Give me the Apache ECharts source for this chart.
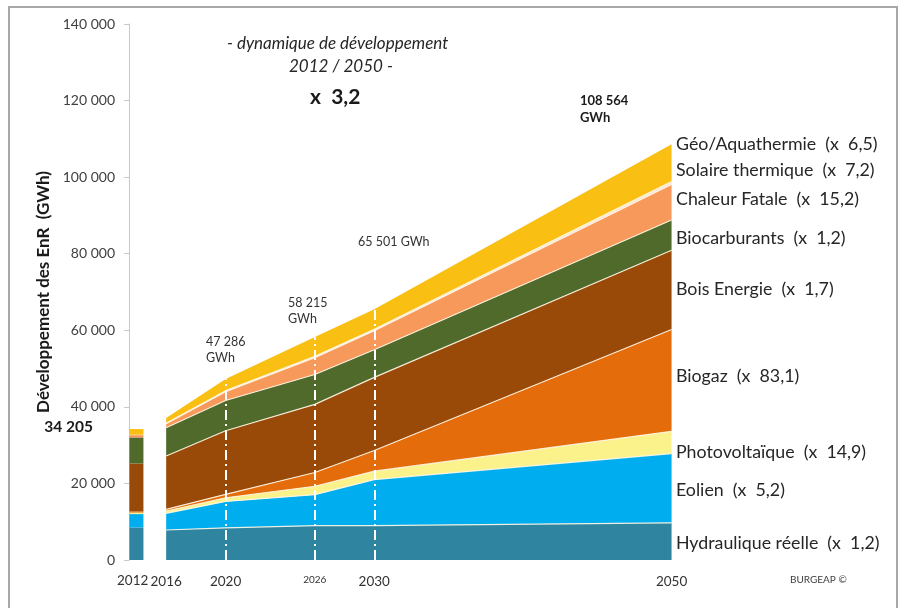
<!DOCTYPE html>
<html>
<head>
<meta charset="utf-8">
<script src="https://cdn.jsdelivr.net/npm/echarts@6/dist/echarts.min.js"></script>
<style>
  html, body { margin: 0; padding: 0; background: #ffffff; }
  #chart { width: 908px; height: 608px; }
</style>
</head>
<body>
<div id="chart"></div>
<script>
// Renewable energy development (GWh), stacked by source, 2012 then 2016 -> 2050
const years = [2016, 2020, 2026, 2030, 2050];

// layer values, bottom to top
const hydraulique      = [7840, 8400, 8960, 9000, 9700];
const eolien           = [4360, 6900, 8100, 12000, 18100];
const photovoltaique   = [600, 950, 2200, 2200, 5800];
const biogaz           = [440, 900, 3600, 5400, 26600];
const boisEnergie      = [13930, 16600, 17800, 19100, 20700];
const biocarburants    = [7390, 7900, 7800, 7200, 7900];
const chaleurFatale    = [1040, 2300, 4400, 5000, 9300];
const solaireThermique = [100, 280, 320, 340, 720];
const geoAquathermie   = [1370, 3056, 5035, 5261, 9744];

// 2012 reference year, same layer order
const values2012 = [8500, 3500, 390, 320, 12500, 6800, 610, 100, 1485];

const layerNames = ['Hydraulique réelle', 'Eolien', 'Photovoltaïque', 'Biogaz', 'Bois Energie',
  'Biocarburants', 'Chaleur Fatale', 'Solaire thermique', 'Géo/Aquathermie'];
const layerFactors = ['1,2', '5,2', '14,9', '83,1', '1,7', '1,2', '15,2', '7,2', '6,5'];
const layerColors = ['#2f85a0', '#00aeef', '#fbf28c', '#e46c0a', '#9a4a08',
  '#4f6a2a', '#f7995a', '#fbe3cf', '#f9bf12'];
const layerValues = [hydraulique, eolien, photovoltaique, biogaz, boisEnergie,
  biocarburants, chaleurFatale, solaireThermique, geoAquathermie];

// x-axis: 2012 column, an empty slot, then one slot per year to 2050
const categories = ['2012', ''];
for (let y = 2016; y <= 2050; y++) categories.push(String(y));
const shownYears = ['2016', '2020', '2026', '2030', '2050'];
const markedYears = [2020, 2026, 2030];

const yTicks = { min: 0, max: 140000, interval: 20000 };

function fmt(v) {
  return String(v).replace(/\B(?=(\d{3})+(?!\d))/g, ' ');
}
function totalAt(year) {
  const i = years.indexOf(year);
  return layerValues.reduce((s, arr) => s + arr[i], 0);
}
const total2012 = values2012.reduce((a, b) => a + b, 0);
const total2050 = totalAt(2050);

const FONT = 'Lato';

const series = [];
layerValues.forEach((arr, k) => {
  const s = {
    name: layerNames[k],
    type: 'line',
    stack: 'enr',
    symbol: 'none',
    smooth: false,
    data: years.map((y, i) => [String(y), arr[i]]),
    lineStyle: { color: 'rgba(255,246,228,0.9)', width: k === layerValues.length - 1 ? 0 : 1.2 },
    areaStyle: { color: layerColors[k], opacity: 1 },
    silent: true,
    z: 2
  };
  if (k === layerValues.length - 1) {
    s.markLine = {
      silent: true,
      symbol: 'none',
      label: { show: false },
      lineStyle: { color: '#ffffff', width: 2, type: [10, 4, 2, 4] },
      data: markedYears.map(y => [
        { coord: [String(y), 0] },
        { coord: [String(y), totalAt(y)] }
      ])
    };
  }
  series.push(s);
});
values2012.forEach((v, k) => {
  series.push({
    name: layerNames[k] + ' 2012',
    type: 'bar',
    stack: 'y2012',
    barWidth: 14,
    data: [['2012', v]],
    itemStyle: { color: layerColors[k] },
    silent: true
  });
});

// series labels on the right, with growth factors
const labelY = [545, 492, 454, 378, 291, 240, 201, 172, 146];
const graphics = layerNames.map((n, k) => ({
  type: 'text',
  left: 676,
  top: labelY[k] - 11,
  style: {
    text: n + '  (x  ' + layerFactors[k] + ')',
    font: '17.8px ' + FONT,
    fill: '#262626'
  }
}));

graphics.push(
  { type: 'rect', shape: { x: 9, y: 7, width: 888, height: 640 },
    style: { fill: 'none', stroke: '#a8a8a8', lineWidth: 2 }, silent: true },
  { type: 'text', left: 227, top: 35,
    style: { text: '- dynamique de développement', font: 'italic 17px ' + FONT, fill: '#262626' } },
  { type: 'text', left: 289, top: 58,
    style: { text: '2012 / 2050 -', font: 'italic 17px ' + FONT, fill: '#262626' } },
  { type: 'text', left: 310, top: 87,
    style: { text: 'x  3,2', font: 'bold 21px ' + FONT, fill: '#1a1a1a' } },
  { type: 'text', left: 580, top: 92,
    style: { text: fmt(total2050) + '\nGWh', font: 'bold 13px ' + FONT, fill: '#1a1a1a', lineHeight: 17 } },
  { type: 'text', left: 358, top: 235,
    style: { text: fmt(totalAt(2030)) + ' GWh', font: '12.5px ' + FONT, fill: '#333' } },
  { type: 'text', left: 288, top: 295,
    style: { text: fmt(totalAt(2026)) + '\nGWh', font: '12.5px ' + FONT, fill: '#333', lineHeight: 16 } },
  { type: 'text', left: 206, top: 334,
    style: { text: fmt(totalAt(2020)) + '\nGWh', font: '12.5px ' + FONT, fill: '#333', lineHeight: 16 } },
  { type: 'text', right: 815, top: 419,
    style: { text: fmt(total2012), font: 'bold 15.5px ' + FONT, fill: '#1a1a1a', align: 'right' } },
  // year label of the separate 2012 column
  { type: 'text', left: 117, top: 574,
    style: { text: categories[0], font: '13.5px ' + FONT, fill: '#333' } },
  { type: 'text', left: 790, top: 575,
    style: { text: 'BURGEAP ©', font: '10px ' + FONT, fill: '#404040' } }
);

const chart = echarts.init(document.getElementById('chart'), null, { renderer: 'canvas' });
chart.setOption({
  animation: false,
  backgroundColor: '#ffffff',
  grid: { left: 129, right: 229, top: 24, bottom: 48, containLabel: false },
  xAxis: {
    type: 'category',
    data: categories,
    boundaryGap: true,
    axisLine: { show: false },
    axisTick: { show: false },
    axisLabel: {
      interval: (i, v) => shownYears.includes(v),
      showMinLabel: true,
      showMaxLabel: true,
      hideOverlap: false,
      margin: 15,
      fontFamily: FONT,
      fontSize: 13.5,
      color: '#333',
      formatter: v => v === '2026' ? '{s|' + v + '}' : v,
      rich: { s: { fontSize: 10, fontFamily: FONT, color: '#333' } }
    },
    splitLine: { show: false }
  },
  yAxis: {
    type: 'value',
    min: yTicks.min,
    max: yTicks.max,
    interval: yTicks.interval,
    name: 'Développement des EnR  (GWh)',
    nameLocation: 'middle',
    nameRotate: 90,
    nameGap: 75,
    nameTextStyle: { fontFamily: FONT, fontWeight: 'bold', fontSize: 17, color: '#1a1a1a' },
    axisLine: { show: true, lineStyle: { color: '#c8c8c8', width: 1 } },
    axisTick: { show: true, length: 5, lineStyle: { color: '#c8c8c8' } },
    axisLabel: { fontFamily: FONT, fontSize: 14, color: '#404040', margin: 14, formatter: v => fmt(v) },
    splitLine: { show: false }
  },
  series: series,
  graphic: graphics
});
</script>
</body>
</html>
